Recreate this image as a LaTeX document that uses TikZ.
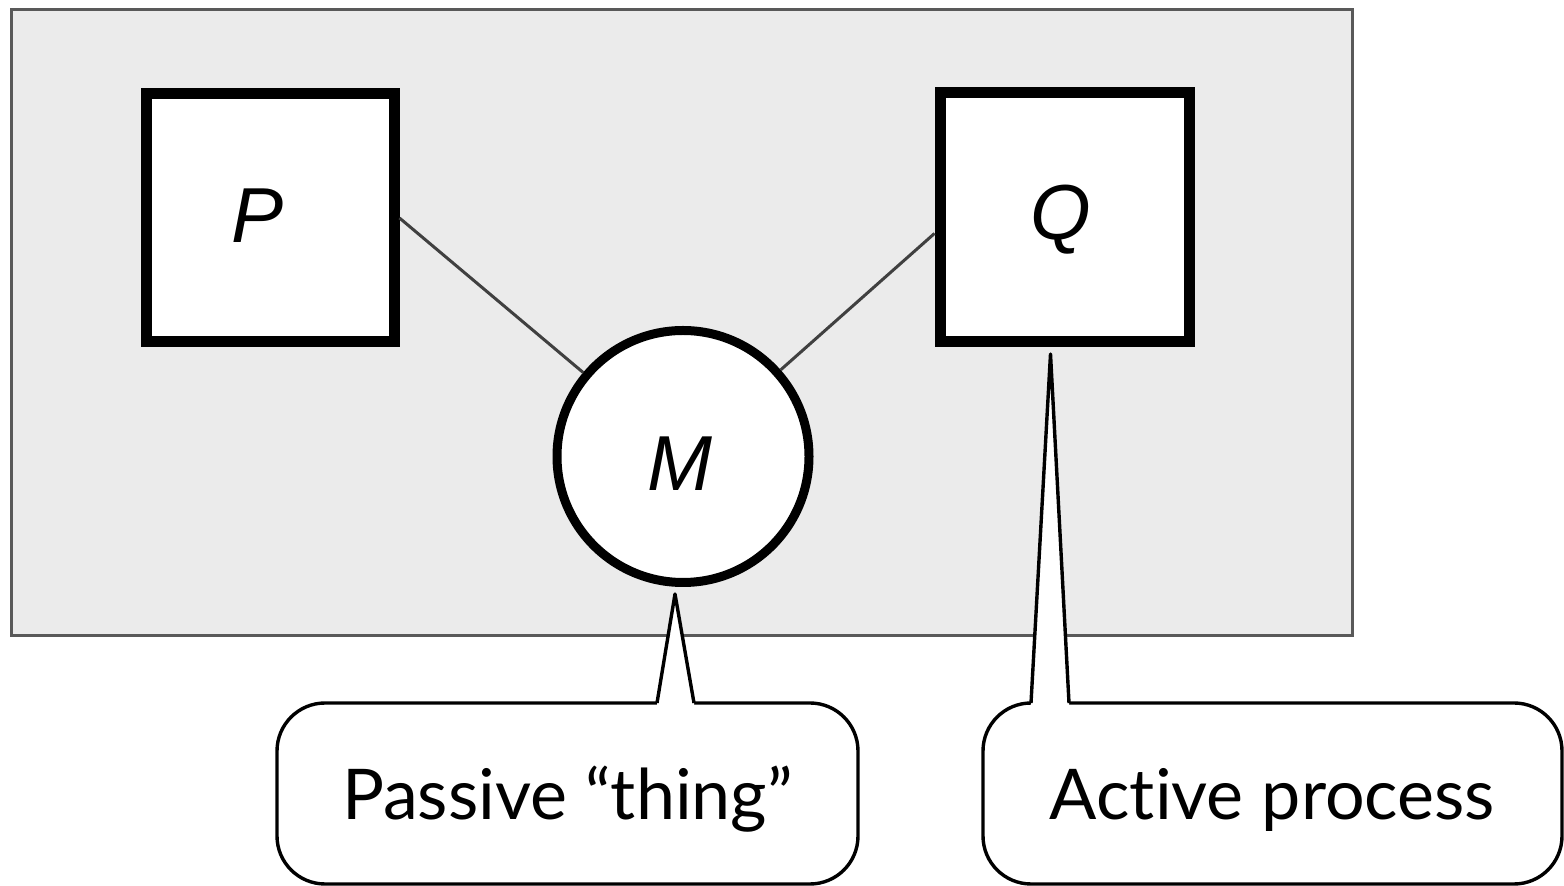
\documentclass[tikz,border=0pt]{standalone}
\usepackage{fontspec}
\usetikzlibrary{calc}
\newfontfamily\calloutfont[Ligatures=NoCommon]{Lato}
\newfontfamily\symfont{Liberation Sans}

\tikzset{
  panel/.style={draw=black!65, line width=1.5pt, fill=black!8},
  procbox/.style={draw=black, line width=5.5pt, fill=white, rectangle,
    minimum size=124pt, inner sep=0pt},
  thingcircle/.style={draw=black, line width=4.5pt, fill=white, circle,
    minimum size=126pt, inner sep=0pt},
  symlabel/.style={font=\symfont\itshape\fontsize{39}{39}\selectfont, inner sep=0pt},
  link/.style={draw=black!75, line width=1.5pt},
  callout/.style={draw=black, line width=1.7pt, fill=white, rectangle,
    rounded corners=24pt, outer sep=0pt, inner sep=0pt,
    minimum height=90.5pt,
    font=\calloutfont\fontsize{35}{35}\selectfont,
    text height=26.5pt, text depth=0pt},
  pointerline/.style={draw=black, line width=1.7pt, line join=round,
    line cap=butt},
}

\begin{document}
\begin{tikzpicture}[x=0.5pt, y=-0.5pt]
  \useasboundingbox (0,0) rectangle (1564,886);

  % shaded panel behind the diagram
  \path[panel] (11,10) rectangle (1352,636);

  % processes and the shared thing
  \node[procbox] (P) at (270,218) {};
  \node[procbox, minimum size=124.5pt] (Q) at (1064.5,217.5) {};
  \node[thingcircle] (M) at (683,456.5) {};

  \node[symlabel] (Plab) at (258,216) {P};
  \node[symlabel] (Qlab) at (1061,220) {Q};
  \node[symlabel] (Mlab) at (680,464) {M};

  % links between processes and the thing
  \path[link] (P.east) -- (M);
  \path[link] (Q.187) -- (M);

  % callouts
  \node[callout, minimum width=290.5pt] (pas) at (567.5,793.5) {Passive “thing”};
  \node[callout, minimum width=289.5pt] (act) at (1272.5,793.5) {Active process};

  \coordinate (mtip) at ($(M.center)+(-8,137.5)$);
  \coordinate (qtip) at ($(Q.center)+(-14,136.5)$);
  \coordinate (pasL) at ($(pas.north)+(89.5,0)$);
  \coordinate (pasR) at ($(pas.north)+(126.5,0)$);
  \coordinate (actL) at ($(act.north)+(-241.5,0)$);
  \coordinate (actR) at ($(act.north)+(-203.5,0)$);

  % pointer of the passive callout
  \fill[white] ($(pasL)+(0,3)$) -- (pasL) -- (mtip) -- (pasR) -- ($(pasR)+(0,3)$) -- cycle;
  \path[pointerline] (pasL) -- (mtip) -- (pasR);

  % pointer of the active callout
  \fill[white] ($(actL)+(0,3)$) -- (actL) -- (qtip) -- (actR) -- ($(actR)+(0,3)$) -- cycle;
  \path[pointerline] (actL) -- (qtip) -- (actR);
\end{tikzpicture}
\end{document}
